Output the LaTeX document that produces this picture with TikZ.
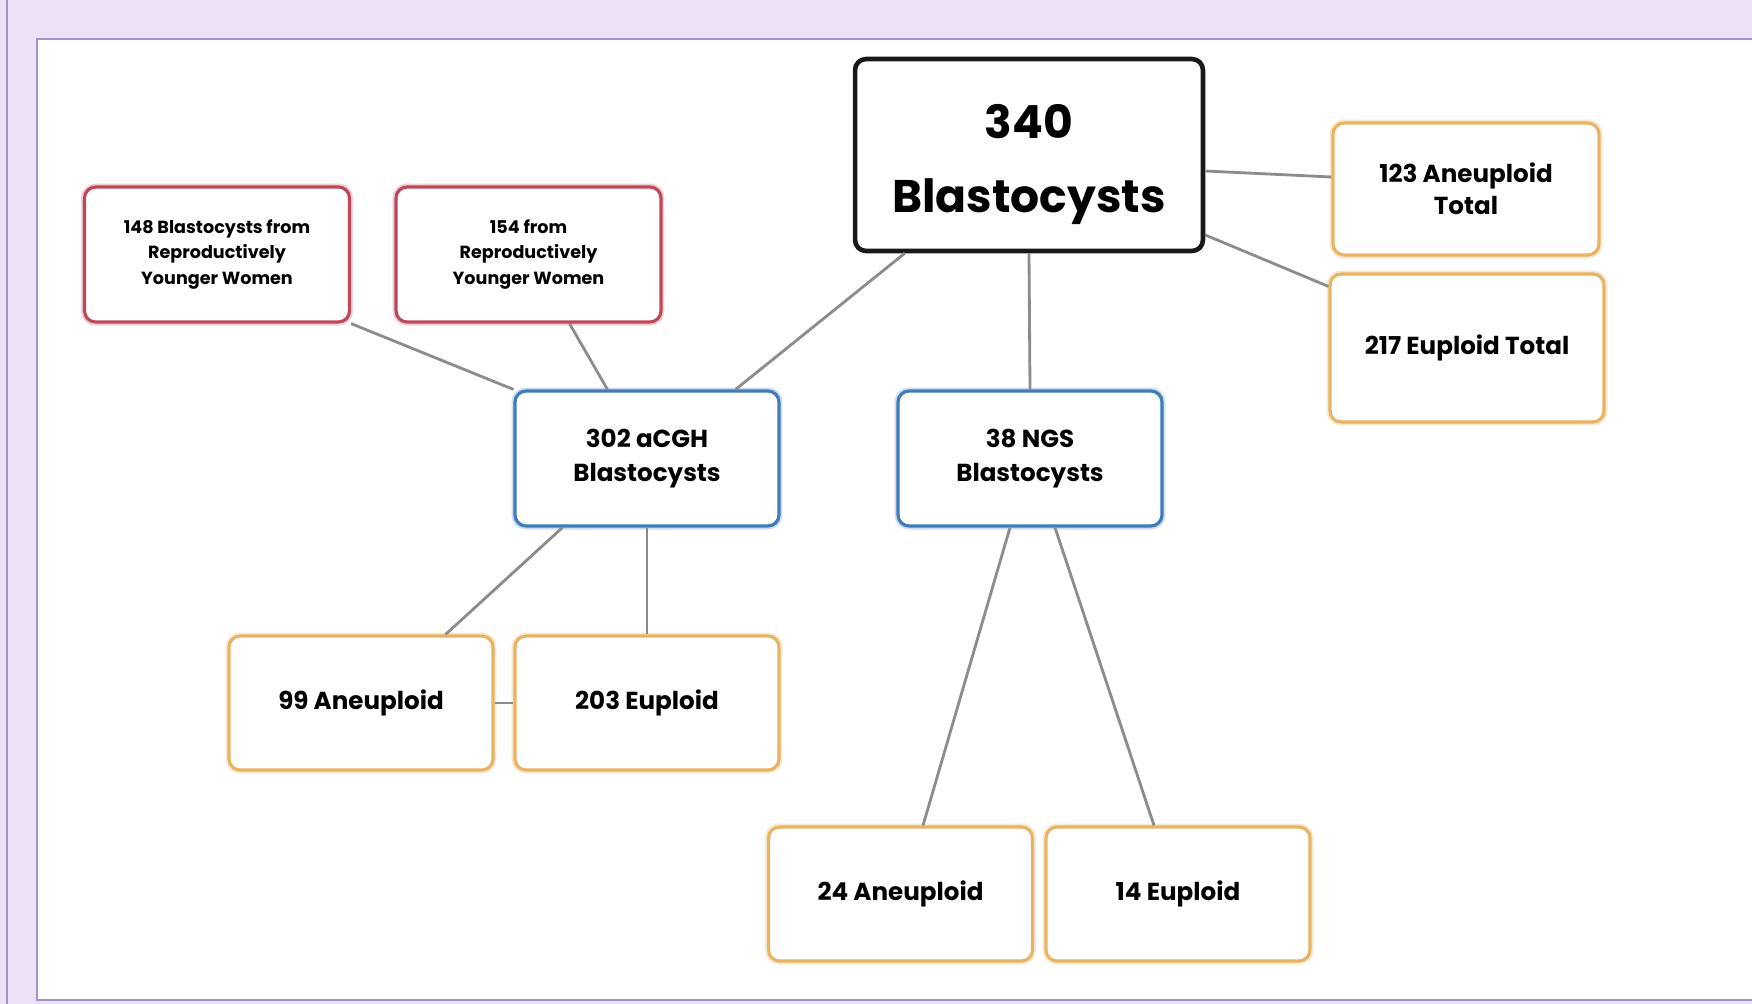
\documentclass[tikz,border=0pt]{standalone}
\usepackage{fontspec}
\setmainfont{Poppins}
\usetikzlibrary{calc}

\definecolor{bgpurple}{RGB}{238,224,246}
\definecolor{framepurple}{RGB}{160,148,200}
\definecolor{boxred}{RGB}{190,72,88}
\definecolor{boxblue}{RGB}{62,124,188}
\definecolor{boxorange}{RGB}{232,180,100}
\definecolor{linkgray}{RGB}{140,140,140}

\begin{document}
\begin{tikzpicture}[x=0.02cm, y=-0.02cm,
    box/.style={rectangle, rounded corners=0.22cm, fill=white, align=center, font=\bfseries, inner sep=2pt},
    topbox/.style={box, draw=black!90, line width=2.6pt, minimum width=6.96cm, minimum height=3.84cm, font=\bfseries\fontsize{26}{42}\selectfont},
    redbox/.style={box, draw=boxred, line width=1.8pt, preaction={draw=boxred!25, line width=4pt}, minimum width=5.3cm, minimum height=2.7cm, font=\bfseries\fontsize{10}{14.5}\selectfont},
    bluebox/.style={box, draw=boxblue, line width=1.8pt, preaction={draw=boxblue!25, line width=4pt}, minimum width=5.28cm, minimum height=2.7cm, font=\bfseries\fontsize{14}{19}\selectfont},
    orangebox/.style={box, draw=boxorange, line width=1.8pt, preaction={draw=boxorange!30, line width=4pt}, minimum width=5.28cm, minimum height=2.68cm, font=\bfseries\fontsize{14}{18.4}\selectfont},
    link/.style={draw=linkgray, line width=1.6pt}]
    \useasboundingbox (0,0) rectangle (1752,1004);
    % frame
    \fill[bgpurple] (0,0) rectangle (1752,1004);
    \draw[framepurple, line width=1.1pt] (7,0) -- (7,1004);
    \draw[framepurple, fill=white, line width=1.1pt] (37,39) rectangle (1770,1000);
    % boxes
    \node [topbox] (total) at (1029,155) {\rule{0pt}{1.05cm}340\\Blastocysts};
    \node [orangebox, minimum width=5.32cm, minimum height=2.64cm] (aneutot) at (1466,189) {123 Aneuploid\\Total};
    \node [orangebox, minimum width=5.48cm, minimum height=2.96cm] (eutot) at (1467,348) {217 Euploid Total};
    \node [redbox] (younga) at (217,254.5) {148 Blastocysts from\\Reproductively\\Younger Women};
    \node [redbox] (youngb) at (528.5,254.5) {154 from\\Reproductively\\Younger Women};
    \node [bluebox] (acgh) at (647,458.5) {302 aCGH\\Blastocysts};
    \node [bluebox] (ngs) at (1030,458.5) {38 NGS\\Blastocysts};
    \node [orangebox] (acghaneu) at (361,703) {99 Aneuploid};
    \node [orangebox] (acgheu) at (647,703) {203 Euploid};
    \node [orangebox] (ngsaneu) at (900.5,894) {24 Aneuploid};
    \node [orangebox] (ngseu) at (1178,894) {14 Euploid};
    % links
    \draw[link] ([xshift=1.04cm]total.south west) -- ([xshift=-0.9cm]acgh.north east);
    \draw[link] (total.south) -- (ngs.north);
    \draw[link] ([yshift=-0.32cm]total.east) -- ([yshift=0.24cm]aneutot.west);
    \draw[link] ([yshift=-1.6cm]total.east) -- ([yshift=-0.28cm]eutot.north west);
    \draw[link] (younga.south east) -- (acgh.north west);
    \draw[link] ([xshift=0.82cm]youngb.south) -- ([xshift=1.88cm]acgh.north west);
    \draw[link] ([xshift=0.98cm]acgh.south west) -- ([xshift=-0.98cm]acghaneu.north east);
    \draw[link] (acgh.south) -- (acgheu.north);
    \draw[link] (acghaneu.east) -- (acgheu.west);
    \draw[link] ([xshift=-0.4cm]ngs.south) -- ([xshift=0.45cm]ngsaneu.north);
    \draw[link] ([xshift=0.5cm]ngs.south) -- ([xshift=-0.48cm]ngseu.north);
\end{tikzpicture}
\end{document}
